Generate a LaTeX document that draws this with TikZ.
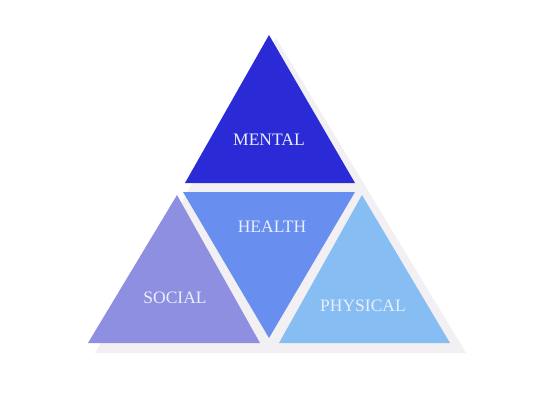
\documentclass[tikz,border=0pt]{standalone}
\usepackage{fontspec}
\setmainfont{Liberation Serif}
\definecolor{cMental}{RGB}{42,42,214}
\definecolor{cHealth}{RGB}{104,142,240}
\definecolor{cSocial}{RGB}{143,143,226}
\definecolor{cPhys}{RGB}{134,190,244}
\definecolor{cShadow}{RGB}{242,240,242}
\definecolor{cText}{RGB}{234,238,250}
\begin{document}
\begin{tikzpicture}[x=1pt,y=-1pt,
  lbl/.style={text=cText,font=\fontsize{17.5}{20}\selectfont,inner sep=0pt}]
\useasboundingbox (0,0) rectangle (542,408);
\fill[white] (0,0) rectangle (542,408);
% shadow
\coordinate (sA) at (276,38);
\coordinate (sB) at (95,353);
\coordinate (sC) at (466,353);
\fill[cShadow] (sA) -- (sB) -- (sC) -- cycle;
% triangles
\coordinate (mA) at (269,35);
\coordinate (mB) at (185,183);
\coordinate (mC) at (355,183);
\fill[cMental] (mA) -- (mB) -- (mC) -- cycle;
\coordinate (hA) at (183,192);
\coordinate (hB) at (355,192);
\coordinate (hC) at (269,338);
\fill[cHealth] (hA) -- (hB) -- (hC) -- cycle;
\coordinate (oA) at (177,195);
\coordinate (oB) at (88,343);
\coordinate (oC) at (260,343);
\fill[cSocial] (oA) -- (oB) -- (oC) -- cycle;
\coordinate (pA) at (362,195);
\coordinate (pB) at (279,343);
\coordinate (pC) at (450,343);
\fill[cPhys] (pA) -- (pB) -- (pC) -- cycle;
% labels
\node[lbl] (mental) at (269,140) {MENTAL};
\node[lbl] (health) at (272,227) {HEALTH};
\node[lbl] (social) at (175,298) {SOCIAL};
\node[lbl] (physical) at (363,306) {PHYSICAL};
\end{tikzpicture}
\end{document}
